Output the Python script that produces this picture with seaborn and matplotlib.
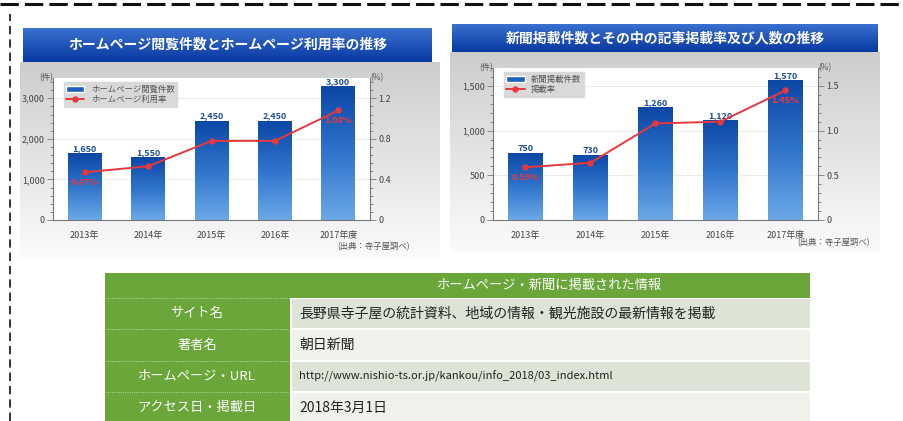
import numpy as np
import pandas as pd
import matplotlib
matplotlib.use("Agg")
import matplotlib.pyplot as plt
import seaborn as sns
from matplotlib.ticker import AutoMinorLocator, FixedLocator
from matplotlib.lines import Line2D
from matplotlib.patches import Rectangle
from matplotlib.colors import LinearSegmentedColormap

# ---------------- data ----------------
years_hp = ["2013年", "2014年", "2015年", "2016年", "2017年度"]
hp_views = [1650, 1550, 2450, 2450, 3300]
hp_rate = [0.47, 0.53, 0.78, 0.78, 1.08]

years_np = ["2013年", "2014年", "2015年", "2016年", "2017年度"]
np_count = [750, 730, 1260, 1120, 1570]
np_rate = [0.59, 0.64, 1.08, 1.10, 1.45]

hp_title = "ホームページ閲覧件数とホームページ利用率の推移"
np_title = "新聞掲載件数とその中の記事掲載率及び人数の推移"
hp_legend = ["ホームページ閲覧件数", "ホームページ利用率"]
np_legend = ["新聞掲載件数", "掲載率"]
source_note = "(出典：寺子屋調べ)"

table_header = "ホームページ・新聞に掲載された情報"
table_keys = ["サイト名", "著者名", "ホームページ・URL", "アクセス日・掲載日"]
table_vals = ["長野県寺子屋の統計資料、地域の情報・観光施設の最新情報を掲載",
              "朝日新聞",
              "http://www.nishio-ts.or.jp/kankou/info_2018/03_index.html",
              "2018年3月1日"]

# ---------------- style ----------------
sns.set_theme(style="white")
plt.rcParams["font.family"] = ["Noto Sans CJK JP", "DejaVu Sans"]

W, H = 904, 421
fig = plt.figure(figsize=(W / 100, H / 100), dpi=100)
fig.patch.set_facecolor("white")


def fbox(x0, y0, x1, y1):
    return [x0 / W, 1 - y1 / H, (x1 - x0) / W, (y1 - y0) / H]


def grad_axes(box, c_top, c_bot, horizontal=False, z=0):
    a = fig.add_axes(fbox(*box), zorder=z)
    cmap = LinearSegmentedColormap.from_list("g", [c_top, c_bot])
    g = np.linspace(0, 1, 256)
    g = g[None, :] if horizontal else g[:, None]
    a.imshow(g, cmap=cmap, aspect="auto", extent=[0, 1, 0, 1], origin="upper")
    a.set_axis_off()
    return a


bar_cmap = LinearSegmentedColormap.from_list("bar", ["#0c47a6", "#2f74cc", "#6aa8e6"])
RED = "#e8383d"


def chart(panel, title_box, plot_box, title, cats, bars, rate, legend_labels,
          lticks, llim, rticks, rlim, rfmt, note_xy):
    # panel background
    grad_axes(panel, "#cdcdcd", "#fbfbfb", z=0)
    # title bar
    ta = grad_axes(title_box, "#3a70d0", "#0838a0", z=1)
    ta.text(0.5, 0.5, title, color="white", fontsize=10, fontweight="bold",
            ha="center", va="center", transform=ta.transAxes)

    ax = fig.add_axes(fbox(*plot_box), zorder=2)
    ax.set_facecolor("white")
    df = pd.DataFrame({"cat": cats, "val": bars})
    sns.barplot(data=df, x="cat", y="val", ax=ax, color="#1f5fbf", width=0.53,
                saturation=1, label=legend_labels[0])
    for p in list(ax.patches):
        x0, y0 = p.get_x(), p.get_y()
        w, h = p.get_width(), p.get_height()
        im = ax.imshow(np.linspace(0, 1, 100)[:, None], cmap=bar_cmap, aspect="auto",
                       extent=[x0, x0 + w, y0, y0 + h], origin="upper", zorder=2)
        im.set_clip_path(p)
        ax.text(x0 + w / 2, y0 + h, f"{bars[list(ax.patches).index(p)]:,}",
                ha="center", va="bottom", fontsize=6.5, color="#1d4f9a",
                fontweight="bold", zorder=5)
    ax.set_xlim(-0.5, len(cats) - 0.5)
    ax.set_ylim(*llim)
    ax.yaxis.set_major_locator(FixedLocator(lticks))
    ax.set_yticklabels([f"{t:,}" for t in lticks], fontsize=6.5, color="#444")
    ax.yaxis.set_minor_locator(AutoMinorLocator(5))
    ax.tick_params(axis="y", which="both", left=True, length=2.5, width=0.6, color="#777", pad=2)
    ax.tick_params(axis="y", which="major", length=4)
    ax.tick_params(axis="x", labelsize=6.5, colors="#444", pad=2, bottom=False)
    ax.grid(axis="y", color="#e6e6e6", lw=0.6)
    ax.set_axisbelow(True)
    for s in ["top", "right"]:
        ax.spines[s].set_visible(False)
    for s in ["left", "bottom"]:
        ax.spines[s].set_color("#777")
        ax.spines[s].set_linewidth(0.8)
    ax.set_xlabel("")
    ax.set_ylabel("")
    ax.text(0, 1.0, "(件)", transform=ax.transAxes, fontsize=6, color="#555",
            ha="right", va="center")

    ax2 = ax.twinx()
    sns.pointplot(x=cats, y=rate, ax=ax2, color=RED, markers="o", linestyles="-",
                  markersize=3.5, linewidth=1.4, errorbar=None, label=legend_labels[1])
    ax2.set_ylim(*rlim)
    ax2.yaxis.set_major_locator(FixedLocator(rticks))
    ax2.set_yticklabels([rfmt(t) for t in rticks], fontsize=6.5, color="#444")
    ax2.yaxis.set_minor_locator(AutoMinorLocator(5))
    ax2.tick_params(axis="y", which="both", right=True, length=2.5, width=0.6, color="#777", pad=2)
    ax2.tick_params(axis="y", which="major", length=4)
    for s in ["top", "left", "bottom"]:
        ax2.spines[s].set_visible(False)
    ax2.spines["right"].set_color("#777")
    ax2.spines["right"].set_linewidth(0.8)
    ax2.set_ylabel("")
    ax2.set_xlabel("")
    ax2.text(1.0, 1.0, "(%)", transform=ax2.transAxes, fontsize=6, color="#555",
             ha="left", va="center")
    for i in [0, len(rate) - 1]:
        ax2.text(i, rate[i], f"{rate[i]:.2f}%", color=RED, fontsize=6.5,
                 ha="center", va="top", fontweight="bold", zorder=6,
                 transform=ax2.transData + matplotlib.transforms.ScaledTranslation(0, -4 / 72, fig.dpi_scale_trans))
    ax.set_xticks(range(len(cats)))
    ax.set_xticklabels(cats, fontsize=6.5, color="#444")

    h1, l1 = ax.get_legend_handles_labels()
    h2, l2 = ax2.get_legend_handles_labels()
    if ax2.get_legend():
        ax2.get_legend().remove()
    leg = ax.legend(h1 + h2, legend_labels, loc="upper left", fontsize=6, frameon=True,
                    facecolor="#d9d9d9", edgecolor="#d9d9d9", framealpha=1,
                    handlelength=2.2, borderpad=0.3, labelspacing=0.2,
                    bbox_to_anchor=(0.02, 1.0))
    leg.set_zorder(10)
    leg.get_frame().set_boxstyle("square", pad=0)
    for t in leg.get_texts():
        t.set_color("#555")
    fig.text(note_xy[0] / W, 1 - note_xy[1] / H, source_note, fontsize=6, color="#555",
             ha="right", va="center")


chart(panel=(20, 62, 440, 258), title_box=(23, 28, 432, 62), plot_box=(53, 78, 370, 220),
      title=hp_title, cats=years_hp, bars=hp_views, rate=hp_rate, legend_labels=hp_legend,
      lticks=[0, 1000, 2000, 3000], llim=(0, 3500),
      rticks=[0, 0.4, 0.8, 1.2], rlim=(0, 1.4), rfmt=lambda t: f"{t:.1f}" if t else "0",
      note_xy=(410, 247))

chart(panel=(450, 52, 880, 252), title_box=(452, 24, 878, 52), plot_box=(493, 68, 818, 220),
      title=np_title, cats=years_np, bars=np_count, rate=np_rate, legend_labels=np_legend,
      lticks=[0, 500, 1000, 1500], llim=(0, 1700),
      rticks=[0, 0.5, 1.0, 1.5], rlim=(0, 1.7), rfmt=lambda t: f"{t:.1f}" if t else "0",
      note_xy=(870, 243))

# ---------------- table ----------------
ta = fig.add_axes(fbox(105, 273, 810, 421), zorder=3)
ta.set_xlim(0, 705)
ta.set_ylim(148, 0)
ta.set_axis_off()
GREEN = "#6aa63a"
bounds = [0, 25, 56, 88, 119, 150]
ta.add_patch(Rectangle((0, 0), 705, 25, facecolor=GREEN, edgecolor="none"))
ta.text(445, 12.5, table_header, color="white", fontsize=9.5, ha="center", va="center")
cell_cols = ["#dde4d6", "#eef2ea", "#dde4d6", "#eef2ea"]
for i, (k, v) in enumerate(zip(table_keys, table_vals)):
    y0, y1 = bounds[i + 1], bounds[i + 2]
    ta.add_patch(Rectangle((0, y0), 185, y1 - y0, facecolor=GREEN, edgecolor="none"))
    ta.add_patch(Rectangle((187, y0 + 1), 518, y1 - y0 - 2, facecolor=cell_cols[i], edgecolor="none"))
    ta.plot([0, 185], [y0, y0], color="#cfe6bd", lw=0.6, ls=":")
    ta.text(92, (y0 + y1) / 2, k, color="white", fontsize=9.5, ha="center", va="center")
    fs = 8 if v.startswith("http") else 10
    ta.text(194, (y0 + y1) / 2, v, color="#222", fontsize=fs, ha="left", va="center")

# page border decoration
fig.add_artist(Line2D([0, 1], [1 - 4 / H, 1 - 4 / H], transform=fig.transFigure,
                      color="#111", lw=2.2, ls=(0, (6, 2))))
fig.add_artist(Line2D([10 / W, 10 / W], [0, 1 - 14 / H], transform=fig.transFigure,
                      color="#111", lw=1.2, ls=(0, (5, 3))))

fig.savefig("out.png", dpi=100, facecolor="white")
